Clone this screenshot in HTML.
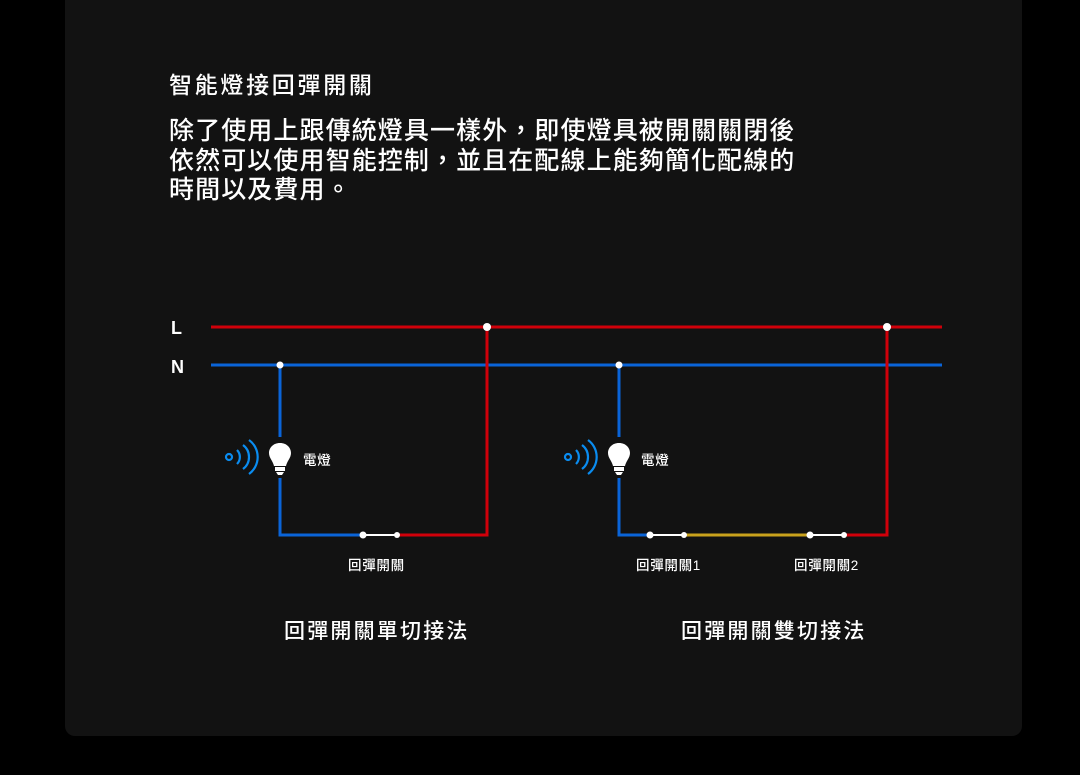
<!DOCTYPE html>
<html><head><meta charset="utf-8"><style>
body{margin:0;width:1080px;height:775px;background:#000;overflow:hidden;font-family:"Liberation Sans","Noto Sans CJK TC",sans-serif}
.card{position:absolute;left:65px;top:-10px;width:957px;height:746px;background:#121212;border-radius:10px}
.t{position:absolute;color:#fff;white-space:nowrap}
</style></head><body>
<div class="card"></div>
<div class="t" style="left:169px;top:70px;font-size:23px;line-height:30px;letter-spacing:2.7px;font-weight:500">智能燈接回彈開關</div>
<div class="t" style="left:169px;top:117px;font-size:25px;line-height:29.5px;letter-spacing:1.1px;font-weight:500">除了使用上跟傳統燈具一樣外，即使燈具被開關關閉後<br>依然可以使用智能控制，並且在配線上能夠簡化配線的<br>時間以及費用。</div>
<svg style="position:absolute;left:0;top:0" width="1080" height="775">
<g font-family="Liberation Sans,Noto Sans CJK TC,sans-serif" fill="#fff" font-weight="bold">
<text x="171" y="334" font-size="18">L</text>
<text x="171" y="373" font-size="18">N</text>
</g>
<g fill="none" stroke-width="3">
<line x1="211" y1="327" x2="942" y2="327" stroke="#d0000a"/>
<line x1="211" y1="365" x2="942" y2="365" stroke="#0a64d8"/>
<polyline points="280,365 280,437" stroke="#0a64d8"/>
<polyline points="280,478 280,535 363,535" stroke="#0a64d8"/>
<polyline points="397,535 487,535 487,327" stroke="#d0000a"/>
<polyline points="619,365 619,437" stroke="#0a64d8"/>
<polyline points="619,478 619,535 650,535" stroke="#0a64d8"/>
<line x1="684" y1="535" x2="810" y2="535" stroke="#c9a21c"/>
<polyline points="844,535 887,535 887,327" stroke="#d0000a"/>
</g>
<g stroke="#fff" stroke-width="2">
<line x1="363" y1="535" x2="397" y2="535"/>
<line x1="650" y1="535" x2="684" y2="535"/>
<line x1="810" y1="535" x2="844" y2="535"/>
</g>
<g fill="#fff">
<circle cx="487" cy="327" r="4"/><circle cx="887" cy="327" r="4"/>
<circle cx="280" cy="365" r="3.5"/><circle cx="619" cy="365" r="3.5"/>
<circle cx="363" cy="535" r="3.5"/><circle cx="397" cy="535" r="3"/>
<circle cx="650" cy="535" r="3.5"/><circle cx="684" cy="535" r="3"/>
<circle cx="810" cy="535" r="3.5"/><circle cx="844" cy="535" r="3"/>
</g>
<g id="b1">
<path d="M280,443 c-7,0 -11,5 -11,10 c0,5 4,8 5,13 h12 c1,-5 5,-8 5,-13 c0,-5 -4,-10 -11,-10z" fill="#fff"/>
<rect x="275" y="467" width="10" height="4" fill="#fff"/>
<path d="M276,472 h8 l-2,3 h-4z" fill="#fff"/>
<g fill="none" stroke="#0a8cf0" stroke-width="2.2">
<circle cx="229" cy="457" r="3"/>
<path d="M237,450 a10,10 0 0 1 0,14"/>
<path d="M243,445 a15,15 0 0 1 0,24"/>
<path d="M249,440 a21,21 0 0 1 0,34"/>
</g>
</g>
<use href="#b1" x="339" y="0"/>
<g fill="#fff" font-family="Liberation Sans,Noto Sans CJK TC,sans-serif" font-size="13.5" font-weight="500" letter-spacing="0.7">
<text x="303" y="465">電燈</text>
<text x="641" y="465">電燈</text>
<text x="348" y="570">回彈開關</text>
<text x="636" y="570">回彈開關1</text>
<text x="794" y="570">回彈開關2</text>
<text x="284" y="638" font-size="21" letter-spacing="2.2">回彈開關單切接法</text>
<text x="681" y="638" font-size="21" letter-spacing="2.2">回彈開關雙切接法</text>
</g>
</svg>
</body></html>
